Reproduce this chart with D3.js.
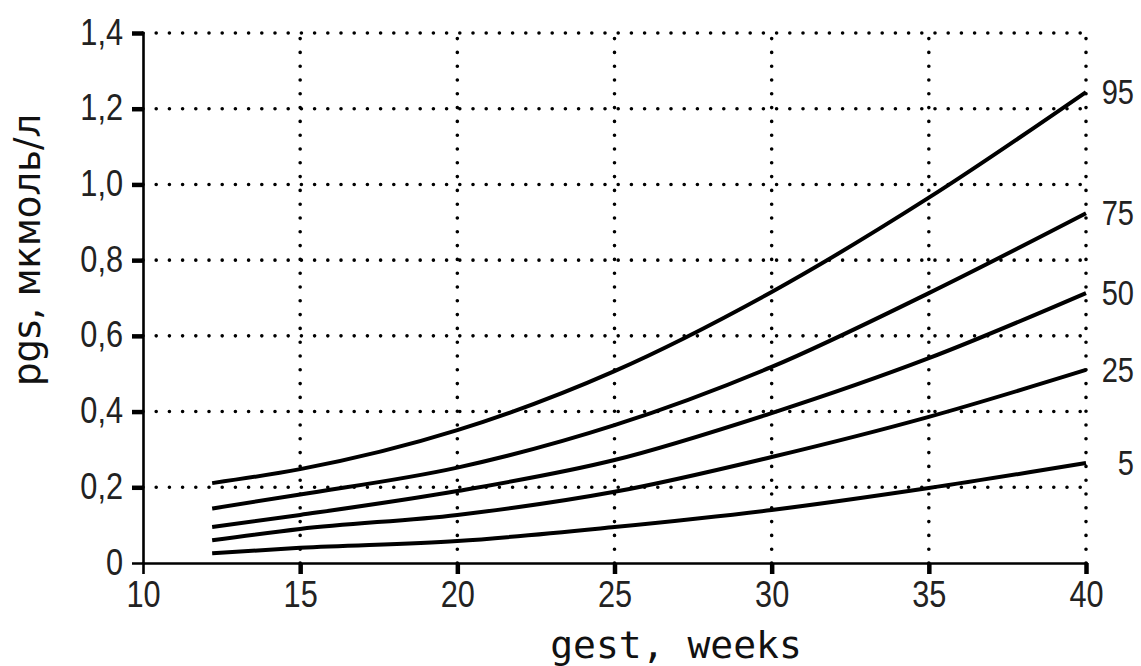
<!DOCTYPE html>
<html>
<head>
<meta charset="utf-8">
<script src="https://cdn.jsdelivr.net/npm/d3@7"></script>
<style>
  body { margin: 0; background: #fff; }
  svg { display: block; }
  .tick-label { font-family: "Liberation Sans", sans-serif; font-size: 37px; fill: #222; }
  .pct-label { font-family: "Liberation Sans", sans-serif; font-size: 35px; fill: #222; }
</style>
</head>
<body>
<div id="chart"></div>
<script>
// gestational week and percentile curves (pgs, мкмоль/л)
var weeks = [12.2, 15, 20, 25, 30, 35, 40];
var p95 = [0.211, 0.248, 0.351, 0.507, 0.716, 0.965, 1.244];
var p75 = [0.144, 0.181, 0.252, 0.364, 0.518, 0.713, 0.924];
var p50 = [0.095, 0.127, 0.190, 0.272, 0.396, 0.541, 0.713];
var p25 = [0.060, 0.090, 0.127, 0.188, 0.280, 0.386, 0.510];
var p5  = [0.026, 0.040, 0.058, 0.095, 0.140, 0.198, 0.264];
var seriesNames = ["95", "75", "50", "25", "5"];
var xTicks = [10, 15, 20, 25, 30, 35, 40];
var yTicks = [0, 0.2, 0.4, 0.6, 0.8, 1.0, 1.2, 1.4];

var series = [p95, p75, p50, p25, p5].map(function(vals, i) {
    return {name: seriesNames[i], values: vals.map(function(v, j) { return {x: weeks[j], y: v}; })};
});

var width = 1141, height = 666;
var margin = {top: 33, right: 55, bottom: 103, left: 143};
var narrow = 0.83; // squeeze the sans digits to look condensed

var x = d3.scaleLinear().domain([10, 40]).range([margin.left, width - margin.right]);
var y = d3.scaleLinear().domain([0, 1.4]).range([height - margin.bottom, margin.top]);

var svg = d3.select("#chart").append("svg")
    .attr("width", width)
    .attr("height", height);

// dotted grid
svg.append("g").selectAll("line")
    .data(yTicks.slice(1))
    .enter().append("line")
        .attr("x1", x(10)).attr("x2", x(40))
        .attr("y1", function(d) { return y(d); })
        .attr("y2", function(d) { return y(d); })
        .attr("stroke", "#000")
        .attr("stroke-width", 3.6)
        .attr("stroke-linecap", "round")
        .attr("stroke-dasharray", "0,13.2");

svg.append("g").selectAll("line")
    .data(xTicks.slice(1))
    .enter().append("line")
        .attr("x1", function(d) { return x(d); })
        .attr("x2", function(d) { return x(d); })
        .attr("y1", y(0)).attr("y2", y(1.4))
        .attr("stroke", "#000")
        .attr("stroke-width", 3.6)
        .attr("stroke-linecap", "round")
        .attr("stroke-dasharray", "0,13.8");

// axes
var xAxis = svg.append("g")
    .attr("transform", "translate(0," + y(0) + ")")
    .call(d3.axisBottom(x).tickValues(xTicks).tickSize(11).tickFormat(d3.format("d")));
var yAxis = svg.append("g")
    .attr("transform", "translate(" + x(10) + ",0)")
    .call(d3.axisLeft(y).tickValues(yTicks).tickSize(11)
        .tickFormat(function(d) { return d === 0 ? "0" : d3.format(".1f")(d).replace(".", ","); }));

[xAxis, yAxis].forEach(function(ax) {
    ax.select(".domain").attr("stroke", "#000").attr("stroke-width", 2.6);
    ax.selectAll(".tick line").attr("stroke", "#000").attr("stroke-width", 4.5);
    ax.selectAll(".tick text").attr("class", "tick-label").attr("fill", "#222")
        .attr("transform", "scale(" + narrow + ",1)");
});
xAxis.selectAll(".tick").filter(function(d) { return d === 10; }).select("line").remove();
yAxis.selectAll(".tick").filter(function(d) { return d === 0; }).select("line").remove();
xAxis.selectAll(".tick text").attr("y", 18).attr("dy", "0.71em");
yAxis.selectAll(".tick text").attr("x", -20 / narrow).attr("dy", "0.3em");

// percentile curves
var line = d3.line()
    .x(function(d) { return x(d.x); })
    .y(function(d) { return y(d.y); })
    .curve(d3.curveMonotoneX);

svg.append("g").selectAll("path")
    .data(series)
    .enter().append("path")
        .attr("d", function(d) { return line(d.values); })
        .attr("fill", "none")
        .attr("stroke", "#000")
        .attr("stroke-width", 4);

svg.append("g").selectAll("g")
    .data(series)
    .enter().append("g")
        .attr("transform", function(d) {
            return "translate(" + (width - 7) + "," + y(d.values[d.values.length - 1].y) + ")scale(" + narrow + ",1)";
        })
    .append("text")
        .attr("class", "pct-label")
        .attr("dy", "0.35em")
        .attr("text-anchor", "end")
        .text(function(d) { return d.name; });

// axis titles
svg.append("text")
    .attr("x", 676)
    .attr("y", 658)
    .attr("text-anchor", "middle")
    .style("font-family", "'DejaVu Sans Mono', monospace")
    .style("font-size", "38px")
    .attr("fill", "#111")
    .text("gest, weeks");

svg.append("text")
    .attr("transform", "translate(40,250)rotate(-90)")
    .attr("text-anchor", "middle")
    .style("font-family", "'DejaVu Sans', sans-serif")
    .style("font-size", "37px")
    .attr("fill", "#111")
    .text("pgs, мкмоль/л");
</script>
</body>
</html>
